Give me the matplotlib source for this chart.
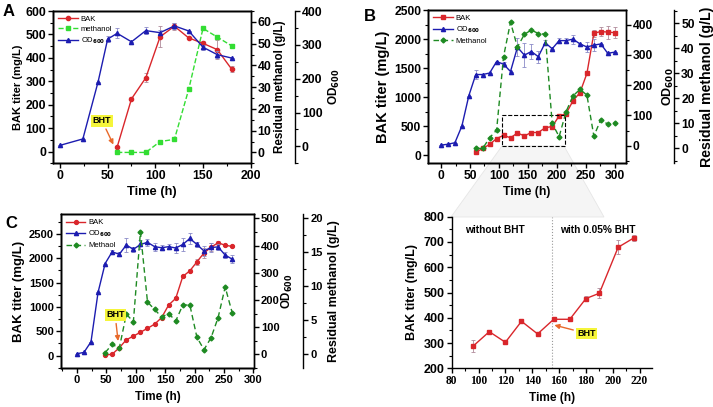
import numpy as np
import matplotlib
matplotlib.use('Agg')
import matplotlib.pyplot as plt
from matplotlib.ticker import MultipleLocator
from matplotlib.patches import Rectangle, Polygon

plt.rcParams['font.family'] = ['Liberation Sans', 'DejaVu Sans']
plt.rcParams['font.weight'] = 'bold'
plt.rcParams['axes.labelweight'] = 'bold'
plt.rcParams['axes.linewidth'] = 1.0

RED = '#d9262b'
BLUE = '#1c1cb0'
LGREEN = '#33dd33'
DGREEN = '#1e8a22'
ERR = '#b08a9a'

# ---- panel A data ----
a_bak_t = [60, 75, 90, 105, 120, 135, 150, 165, 180]
a_bak = [20, 225, 315, 490, 535, 485, 462, 435, 352]
a_bak_err = [5, 6, 20, 45, 15, 6, 12, 40, 12]
a_meoh_t = [60, 75, 90, 105, 120, 135, 150, 165, 180]
a_meoh = [0, 0, 0, 5, 6, 29, 57, 53, 49]
a_od_t = [0, 24, 40, 50, 60, 75, 90, 105, 120, 135, 150, 165, 180]
a_od = [3, 22, 191, 317, 334, 309, 342, 336, 356, 341, 293, 271, 261]
a_od_err = [0, 0, 0, 8, 15, 0, 10, 8, 10, 0, 8, 10, 0]

# ---- panel B data ----
b_t = [60, 72, 84, 96, 108, 120, 132, 144, 156, 168, 180, 192, 204, 216,
       228, 240, 252, 264, 276, 288, 300]
b_bak = [55, 120, 190, 290, 345, 303, 386, 336, 394, 394, 476, 497, 679, 717,
         940, 1080, 1410, 2100, 2130, 2120, 2110]
b_bak_err = [5, 5, 5, 10, 5, 5, 5, 5, 5, 5, 10, 15, 20, 10,
             10, 10, 15, 60, 80, 110, 90]
b_meoh = [0, 0, 4.3, 7.3, 36.7, 50.4, 40.5, 45.6, 47.3, 45.9, 45.6, 10, 4.7, 14.7,
          21, 23.6, 21.3, 4.9, 11.5, 9.7, 10.3]
b_od_t = [0, 12, 24, 36, 48, 60, 72, 84, 96, 108, 120, 132, 144, 156, 168, 180,
          192, 204, 216, 228, 240, 252, 264, 276, 288, 300]
b_od = [2, 5, 10, 65, 165, 235, 235, 240, 278, 269, 245, 325, 299, 311, 294, 340,
        320, 347, 347, 352, 336, 326, 332, 336, 305, 309]
b_od_err = [0, 0, 0, 0, 0, 15, 0, 0, 0, 8, 0, 30, 40, 25, 20, 8,
            0, 8, 8, 15, 0, 15, 20, 0, 0, 0]

# ---- panel C data ----
c_t = [48, 60, 72, 84, 96, 108, 120, 132, 144, 156, 168, 180, 192, 204, 216,
       228, 240, 252, 264]
c_bak = [10, 30, 160, 325, 400, 480, 560, 645, 780, 1040, 1175, 1625, 1740, 1925,
         2105, 2225, 2315, 2265, 2240]
c_bak_err = [5, 5, 5, 10, 10, 10, 10, 10, 10, 15, 20, 20, 30, 60, 100,
             80, 30, 15, 10]
c_meoh = [0.24, 1.47, 0.88, 5.9, 4.8, 18.0, 7.7, 6.6, 5.5, 6.0, 4.9, 7.25, 7.25,
          2.5, 0.68, 2.44, 5.4, 9.9, 6.1]
c_od_t = [0, 12, 24, 36, 48, 60, 72, 84, 96, 108, 120, 132, 144, 156, 168, 180,
          192, 204, 216, 228, 240, 252, 264]
c_od = [2, 7, 46, 228, 334, 377, 368, 402, 386, 404, 412, 396, 392, 396, 391, 404,
        426, 404, 380, 393, 395, 365, 350]
c_od_err = [0, 0, 0, 0, 0, 8, 8, 25, 8, 15, 12, 15, 10, 10, 20, 25,
            20, 8, 20, 15, 10, 12, 15]

# ---- panel D data ----
d_t = [96, 108, 120, 132, 144, 156, 168, 180, 190, 204, 216]
d_bak = [288, 345, 303, 386, 336, 394, 394, 476, 497, 679, 717]
d_bak_err = [25, 4, 4, 4, 4, 4, 4, 10, 20, 28, 12]

W, H = 713, 407
fig = plt.figure(figsize=(W / 100, H / 100), dpi=100)


def box(l, t, r, b):
    return [l / W, 1 - b / H, (r - l) / W, (b - t) / H]


def ticks(ax, size=8.5):
    ax.tick_params(axis='both', which='major', direction='out', length=3.5,
                   width=1.0, labelsize=size, pad=1.5)
    ax.tick_params(axis='both', which='minor', direction='out', length=2,
                   width=0.8)


def errs(ax, x, y, e, c=ERR):
    ax.errorbar(x, y, yerr=e, fmt='none', ecolor=c, elinewidth=0.6,
                capsize=1.5, capthick=0.6, zorder=2)


def bht(ax, xy_text, xy_tip, coords, fs=6.5):
    ax.annotate('BHT', xy=xy_tip, xytext=xy_text, xycoords=coords,
                textcoords=coords, ha='center', va='center',
                fontsize=fs, fontweight='bold', zorder=10,
                bbox=dict(boxstyle='square,pad=0.15', fc='#f5f53a', ec='none'),
                arrowprops=dict(arrowstyle='-|>', color='#e8692a', lw=1.0,
                                mutation_scale=7, shrinkA=2, shrinkB=0))


def legend(ax, handles, names):
    ax.legend(handles, names, loc='upper left', frameon=False,
              prop={'size': 5.5, 'weight': 'normal'}, handlelength=2.6,
              borderaxespad=0.2, labelspacing=0.35, handletextpad=0.4)


# =================== A ===================
axA = fig.add_axes(box(53.3, 11, 250.7, 163.3))
axA.patch.set_alpha(0)
errs(axA, a_bak_t, a_bak, a_bak_err)
lA1, = axA.plot(a_bak_t, a_bak, '-', color=RED, marker='o', ms=3, lw=1.0, zorder=3)
axA.set_xlim(-7, 200)
axA.set_ylim(-50, 600)
axA.xaxis.set_major_locator(MultipleLocator(50))
axA.xaxis.set_minor_locator(MultipleLocator(25))
axA.yaxis.set_major_locator(MultipleLocator(100))
axA.yaxis.set_minor_locator(MultipleLocator(50))
ticks(axA, 8.8)
axA.set_xlabel('Time (h)', fontsize=9.3)
axA.set_ylabel('BAK titer (mg/L)', fontsize=8)
axA.xaxis.set_label_coords(0.5, -0.15)
axA.yaxis.set_label_coords(-0.151, 0.5)

axA2 = axA.twinx()
lA2, = axA2.plot(a_meoh_t, a_meoh, '--', color=LGREEN, marker='s', ms=2.8, lw=1.0)
axA2.set_ylim(-5, 65)
axA2.yaxis.set_major_locator(MultipleLocator(10))
axA2.yaxis.set_minor_locator(MultipleLocator(5))
ticks(axA2, 8.8)
axA2.set_ylabel('Residual methanol (g/L)', fontsize=8.4)
axA2.yaxis.set_label_coords(1.118, 0.5)

axA3 = axA.twinx()
errs(axA3, a_od_t, a_od, a_od_err, c='#8a8ac8')
lA3, = axA3.plot(a_od_t, a_od, '-', color=BLUE, marker='^', ms=3, lw=1.0)
axA3.spines['right'].set_position(('axes', 1.224))
axA3.set_ylim(-50, 400)
axA3.yaxis.set_major_locator(MultipleLocator(100))
axA3.yaxis.set_minor_locator(MultipleLocator(50))
ticks(axA3, 8.8)
axA3.set_ylabel('OD$_{600}$', fontsize=8.5)
axA3.yaxis.set_label_coords(1.386, 0.5)
legend(axA3, [lA1, lA2, lA3], ['BAK', 'methanol', 'OD$_{600}$'])
bht(axA3, (44, 132), (56, 30), axA.transData)

# =================== B ===================
axB = fig.add_axes(box(428.3, 10, 625.7, 162.7))
axB.patch.set_alpha(0)
errs(axB, b_t, b_bak, b_bak_err)
lB1, = axB.plot(b_t, b_bak, '-', color=RED, marker='s', ms=2.8, lw=1.0, zorder=3)
axB.set_xlim(-22, 319)
axB.set_ylim(-125, 2500)
axB.xaxis.set_major_locator(MultipleLocator(50))
axB.xaxis.set_minor_locator(MultipleLocator(25))
axB.yaxis.set_major_locator(MultipleLocator(500))
axB.yaxis.set_minor_locator(MultipleLocator(250))
ticks(axB, 8.7)
axB.set_xlabel('Time (h)', fontsize=8.8)
axB.set_ylabel('BAK titer (mg/L)', fontsize=10.5)
axB.xaxis.set_label_coords(0.5, -0.15)
axB.yaxis.set_label_coords(-0.192, 0.5)
axB.add_patch(Rectangle((105, 170), 110, 530, fill=False, ls='--', lw=0.8,
                        ec='black', zorder=5))

axB2 = axB.twinx()
errs(axB2, b_od_t, b_od, b_od_err, c='#8a8ac8')
lB2, = axB2.plot(b_od_t, b_od, '-', color=BLUE, marker='^', ms=3, lw=1.0)
axB2.set_ylim(-56, 448)
axB2.yaxis.set_major_locator(MultipleLocator(100))
axB2.yaxis.set_minor_locator(MultipleLocator(50))
ticks(axB2, 8.7)
axB2.set_ylabel('OD$_{600}$', fontsize=9)
axB2.yaxis.set_label_coords(1.179, 0.5)

axB3 = axB.twinx()
lB3, = axB3.plot(b_t, b_meoh, '--', color=DGREEN, marker='D', ms=2.5, lw=1.0,
                 dashes=(4, 2.5))
axB3.spines['right'].set_position(('axes', 1.246))
axB3.set_ylim(-5.7, 55.3)
axB3.yaxis.set_major_locator(MultipleLocator(10))
axB3.yaxis.set_minor_locator(MultipleLocator(5))
ticks(axB3, 8.7)
axB3.set_ylabel('Residual methanol (g/L)', fontsize=10.2)
axB3.yaxis.set_label_coords(1.375, 0.5)
legend(axB3, [lB1, lB2, lB3], ['BAK', 'OD$_{600}$', 'Methanol'])

# =================== C ===================
axC = fig.add_axes(box(61, 214.3, 254, 368.3))
axC.patch.set_alpha(0)
errs(axC, c_t, c_bak, c_bak_err)
lC1, = axC.plot(c_t, c_bak, '-', color=RED, marker='o', ms=2.8, lw=1.0, zorder=3)
axC.set_xlim(-27, 301)
axC.set_ylim(-260, 2900)
axC.xaxis.set_major_locator(MultipleLocator(50))
axC.xaxis.set_minor_locator(MultipleLocator(25))
axC.yaxis.set_major_locator(MultipleLocator(500))
axC.yaxis.set_minor_locator(MultipleLocator(250))
ticks(axC, 8)
axC.set_xlabel('Time (h)', fontsize=8.5)
axC.set_ylabel('BAK titer (mg/L)', fontsize=9.5)
axC.xaxis.set_label_coords(0.5, -0.147)
axC.yaxis.set_label_coords(-0.189, 0.5)

axC2 = axC.twinx()
errs(axC2, c_od_t, c_od, c_od_err, c='#8a8ac8')
lC2, = axC2.plot(c_od_t, c_od, '-', color=BLUE, marker='^', ms=3, lw=1.0)
axC2.set_ylim(-51.5, 515)
axC2.yaxis.set_major_locator(MultipleLocator(100))
axC2.yaxis.set_minor_locator(MultipleLocator(50))
ticks(axC2, 8)
axC2.set_ylabel('OD$_{600}$', fontsize=8.3)
axC2.yaxis.set_label_coords(1.135, 0.5)

axC3 = axC.twinx()
lC3, = axC3.plot(c_t, c_meoh, '--', color=DGREEN, marker='D', ms=2.5, lw=1.0,
                 dashes=(4, 2.5))
axC3.spines['right'].set_position(('axes', 1.255))
axC3.set_ylim(-2.06, 20.6)
axC3.yaxis.set_major_locator(MultipleLocator(5))
axC3.yaxis.set_minor_locator(MultipleLocator(2.5))
ticks(axC3, 8)
axC3.set_ylabel('Residual methanol (g/L)', fontsize=9)
axC3.yaxis.set_label_coords(1.385, 0.5)
legend(axC3, [lC1, lC2, lC3], ['BAK', 'OD$_{600}$', 'Methaol'])
bht(axC3, (65, 835), (70, 300), axC.transData)

# =================== D ===================
axD = fig.add_axes(box(451.7, 216.7, 651.7, 368.3))
axD.patch.set_alpha(0)
axD.errorbar(d_t, d_bak, yerr=d_bak_err, color=RED, marker='s', ms=3, lw=1.0,
             ecolor=ERR, elinewidth=0.6, capsize=1.5, capthick=0.6)
axD.set_xlim(80, 229)
axD.set_ylim(200, 800)
axD.xaxis.set_major_locator(MultipleLocator(20))
axD.xaxis.set_minor_locator(MultipleLocator(10))
axD.yaxis.set_major_locator(MultipleLocator(100))
axD.yaxis.set_minor_locator(MultipleLocator(50))
ticks(axD, 9)
for lab in axD.get_xticklabels():
    lab.set_fontfamily('Liberation Serif')
    lab.set_fontsize(8.3)
axD.spines['top'].set_visible(False)
axD.spines['right'].set_visible(False)
axD.axvline(155, color='#999999', ls=':', lw=0.8)
axD.text(90, 747, 'without BHT', fontsize=7.3, fontweight='bold', va='center')
axD.text(160.5, 747, 'with 0.05% BHT', fontsize=7.3, fontweight='bold', va='center')
axD.set_xlabel('Time (h)', fontsize=8.6)
axD.set_ylabel('BAK titer (mg/L)', fontsize=9)
axD.xaxis.set_label_coords(0.5, -0.155)
axD.yaxis.set_label_coords(-0.168, 0.5)
bht(axD, (180.5, 338), (156.5, 371), axD.transData)

# zoom wedge between the box in B and panel D
wedge = Polygon([(502 / W, 1 - 146 / H), (564 / W, 1 - 146 / H),
                 (604 / W, 1 - 217 / H), (451 / W, 1 - 217 / H)],
                closed=True, transform=fig.transFigure, fc='#f5f5f5',
                ec='#e6e6e6', lw=0.6, zorder=-1)
fig.patches.append(wedge)

# panel letters
fig.text(3 / W, 1 - 16 / H, 'A', fontsize=12, fontweight='bold')
fig.text(364 / W, 1 - 21 / H, 'B', fontsize=12, fontweight='bold')
fig.text(5 / W, 1 - 228 / H, 'C', fontsize=12, fontweight='bold')

fig.savefig('out.png', dpi=100)
